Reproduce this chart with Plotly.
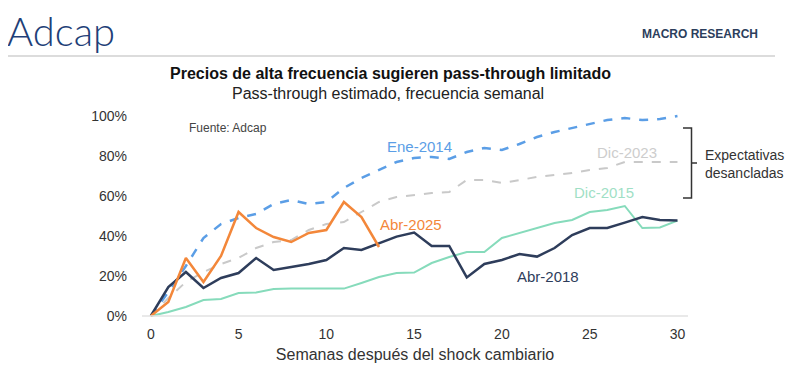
import plotly.graph_objects as go

weeks = list(range(0, 31))
ene_2014 = [0, 12, 25, 39, 46, 49, 51, 56, 58, 56, 57, 64, 69, 73, 77, 79, 79.5, 78.5, 82, 84, 83, 86, 89.5, 92, 94, 96, 98, 99, 98, 98.5, 100]
dic_2023 = [0, 9, 17, 22, 26, 29, 34, 37, 38, 43, 46, 47, 52, 57, 59.5, 60.5, 61.5, 62, 68, 68, 66.5, 68, 69.5, 70.5, 71.5, 73, 74, 77, 77, 77, 77]
dic_2015 = [0, 2, 4.5, 8, 8.5, 11.5, 11.7, 13.5, 13.7, 13.7, 13.7, 13.7, 16.5, 19.5, 21.5, 21.7, 26.5, 29.5, 32, 32, 39, 41.5, 44, 46.5, 48, 52, 53, 55, 44, 44.3, 47.7]
abr_2018 = [0, 14.5, 22, 14, 19, 21.5, 29, 23, 24.5, 26, 28, 34, 33, 36.5, 39.7, 41.7, 35, 35, 19.3, 26, 28, 31, 29.7, 34, 40.5, 44, 44, 46.7, 49.5, 48, 47.7]
abr_2025 = [0, 7, 29, 17, 30, 52, 44, 39.5, 37, 41.5, 43, 57, 49.5, 34.5]
yticks = [0, 20, 40, 60, 80, 100]
ytick_labels = ["0%", "20%", "40%", "60%", "80%", "100%"]
xticks = [0, 5, 10, 15, 20, 25, 30]

C_BLUE = "#5b9ee6"
C_GRAY = "#c9c9c9"
C_GREEN = "#86dbbb"
C_NAVY = "#2e3d5b"
C_ORANGE = "#f3873a"

FONT = "Liberation Sans, Arial, sans-serif"

fig = go.Figure()
fig.add_trace(go.Scatter(x=weeks, y=dic_2015, mode="lines", line=dict(color=C_GREEN, width=2)))
fig.add_trace(go.Scatter(x=weeks, y=dic_2023, mode="lines", line=dict(color=C_GRAY, width=2, dash="dash")))
fig.add_trace(go.Scatter(x=weeks, y=ene_2014, mode="lines", line=dict(color=C_BLUE, width=2.5, dash="dash")))
fig.add_trace(go.Scatter(x=weeks, y=abr_2018, mode="lines", line=dict(color=C_NAVY, width=2.5)))
fig.add_trace(go.Scatter(x=weeks[:len(abr_2025)], y=abr_2025, mode="lines", line=dict(color=C_ORANGE, width=2.5)))

OFF = 8  # page body margin
# plot area in screen pixels
SL, SR, ST, SB = 142, 688, 112, 318
L, R, T, B = SL - OFF, SR - OFF, ST - OFF, SB - OFF
W, H = R - L, B - T

def px(x):
    return (x - SL) / W

def py(y):
    return (SB - y) / H

annotations = [
    dict(x=15.3, y=85, xref="x", yref="y", text="Ene-2014", font=dict(color=C_BLUE, size=15)),
    dict(x=27.15, y=82, xref="x", yref="y", text="Dic-2023", font=dict(color="#cdcdcd", size=15)),
    dict(x=25.8, y=62, xref="x", yref="y", text="Dic-2015", font=dict(color="#9fdfc6", size=15)),
    dict(x=14.8, y=46, xref="x", yref="y", text="Abr-2025", font=dict(color=C_ORANGE, size=15)),
    dict(x=22.6, y=20, xref="x", yref="y", text="Abr-2018", font=dict(color=C_NAVY, size=15)),
    dict(x=4.4, y=94, xref="x", yref="y", text="Fuente: Adcap", font=dict(color="#444444", size=12)),
    dict(x=px(703), y=py(164), xref="paper", yref="paper", xanchor="left", align="left",
         text="Expectativas<br>desancladas", font=dict(color="#333333", size=14)),
    dict(x=px(5), y=py(31), xref="paper", yref="paper", xanchor="left",
         text="Adcap", font=dict(color="#1f3f78", size=40, family="Lato, sans-serif", weight=300)),
    dict(x=px(760), y=py(34), xref="paper", yref="paper", xanchor="right",
         text="<b>MACRO RESEARCH</b>", font=dict(color="#2c3e5c", size=12)),
    dict(x=px(390), y=py(73), xref="paper", yref="paper",
         text="<b>Precios de alta frecuencia sugieren pass-through limitado</b>", font=dict(color="#111111", size=16)),
    dict(x=px(388), y=py(93), xref="paper", yref="paper",
         text="Pass-through estimado, frecuencia semanal", font=dict(color="#222222", size=16)),
]
for a in annotations:
    a.setdefault("showarrow", False)
    a.setdefault("xanchor", "center")
    a.setdefault("yanchor", "middle")

shapes = [
    dict(type="line", xref="paper", yref="paper", x0=px(5), x1=px(775), y0=py(56), y1=py(56),
         line=dict(color="#dcdcdc", width=2)),
    dict(type="line", xref="paper", yref="y", x0=0, x1=1, y0=0, y1=0, line=dict(color="#e2e2e2", width=1.5)),
    dict(type="path", xref="paper", yref="paper",
         path=f"M {px(683)} {py(128)} L {px(691.5)} {py(128)} L {px(691.5)} {py(198)} L {px(683)} {py(198)} "
              f"M {px(691.5)} {py(163)} L {px(697)} {py(163)}",
         line=dict(color="#333333", width=1.5)),
]

fig.update_layout(
    width=800, height=377,
    margin=dict(l=L, r=800 - R, t=T, b=377 - B),
    paper_bgcolor="white", plot_bgcolor="white",
    showlegend=False,
    font=dict(family=FONT, color="#333333", size=13),
    annotations=annotations,
    shapes=shapes,
    xaxis=dict(range=[-0.5, 30.6], tickvals=xticks, showgrid=False, zeroline=False, showline=False,
               ticks="", ticklabelstandoff=6, tickfont=dict(size=14, color="#333333"),
               title=dict(text="Semanas después del shock cambiario", font=dict(size=16, color="#333333"), standoff=7)),
    yaxis=dict(range=[-1, 102], tickvals=yticks, ticktext=ytick_labels, showgrid=False, zeroline=False,
               showline=False, ticks="", ticklabelstandoff=14, tickfont=dict(size=14, color="#333333")),
)

fig.write_html("out.html")
